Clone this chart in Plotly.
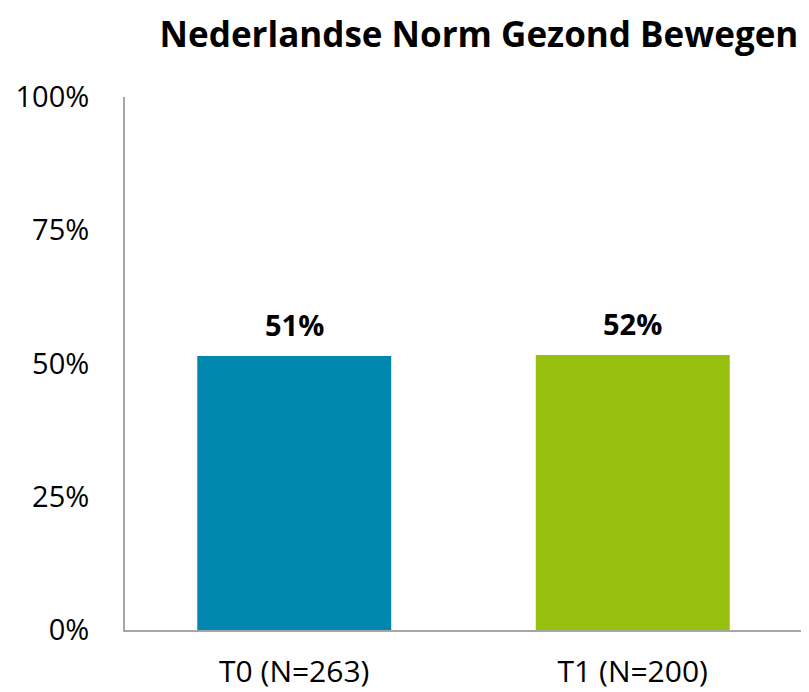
import plotly.graph_objects as go

categories = ["T0 (N=263)", "T1 (N=200)"]
values = [51.4, 51.6]
labels = ["51%", "52%"]
colors = ["#0087B0", "#97BF0D"]
y_ticks = [0, 25, 50, 75, 100]
y_tick_labels = ["0%", "25%", "50%", "75%", "100%"]

FONT = "Open Sans"
OFF = 8  # page body margin offset

fig = go.Figure()
fig.add_trace(go.Bar(
    x=categories,
    y=values,
    marker=dict(color=colors, line=dict(width=0)),
    hoverinfo="skip",
))

for c, v, t in zip(categories, values, labels):
    fig.add_annotation(
        x=c, y=v, text="<b>%s</b>" % t, showarrow=False,
        yanchor="bottom", yshift=10,
        font=dict(family=FONT, size=29, color="#000000"),
    )

fig.update_layout(
    width=809, height=692,
    margin=dict(l=125 - OFF, r=7 + OFF, t=97 - OFF, b=62 + OFF),
    paper_bgcolor="white", plot_bgcolor="white",
    bargap=0.427,
    showlegend=False,
    title=dict(
        text="<b>Nederlandse Norm Gezond Bewegen</b>",
        x=(479 - OFF) / 809, xref="container", xanchor="center",
        y=1 - (35 - OFF) / 692, yref="container", yanchor="middle",
        font=dict(family=FONT, size=35, color="#000000"),
    ),
    font=dict(family=FONT, color="#000000"),
)

fig.update_yaxes(
    range=[0, 100], automargin=False,
    tickvals=y_ticks, ticktext=y_tick_labels,
    showgrid=False, zeroline=False,
    showline=True, linecolor="#A6A6A6", linewidth=2,
    ticks="", ticklabelstandoff=28,
    tickfont=dict(family=FONT, size=29, color="#000000"),
)
fig.update_xaxes(
    automargin=False,
    showgrid=False, zeroline=False,
    showline=True, linecolor="#A6A6A6", linewidth=2,
    ticks="", ticklabelstandoff=14,
    tickfont=dict(family=FONT, size=30, color="#000000"),
)

fig.write_html("out.html")
